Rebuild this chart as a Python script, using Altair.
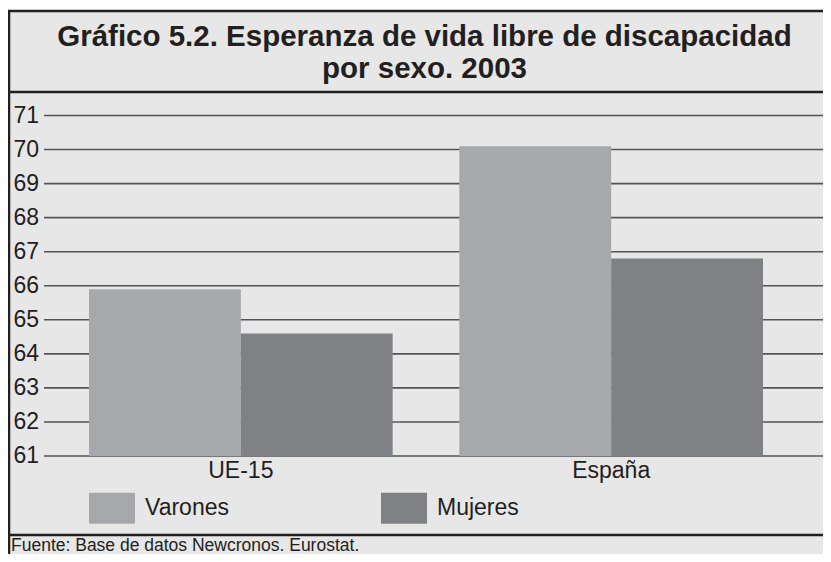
import altair as alt
import pandas as pd

# ---- data ----
grupos = ["UE-15", "España"]
sexos = ["Varones", "Mujeres"]
varones = [65.9, 70.1]
mujeres = [64.6, 66.8]
ticks = [61, 62, 63, 64, 65, 66, 67, 68, 69, 70, 71]
colores = ["#a7a8ab", "#808184"]

titulo = ["Gráfico 5.2. Esperanza de vida libre de discapacidad", "por sexo. 2003"]
fuente = "Fuente: Base de datos Newcronos. Eurostat."

rows = []
for g, v, m in zip(grupos, varones, mujeres):
    rows.append({"grupo": g, "sexo": "Varones", "valor": v})
    rows.append({"grupo": g, "sexo": "Mujeres", "valor": m})
df = pd.DataFrame(rows)
df_ticks = pd.DataFrame({"v": ticks})
one = pd.DataFrame({"k": [0]})

W, H = 815, 546
FONT = "Liberation Sans"
DARK = "#231f20"
BG = "#e6e7e6"

yscale = alt.Scale(domain=[61, 71], range=[448, 107.5], zero=False, nice=False)
xscale = alt.Scale(domain=grupos, range=[81, 755], paddingInner=0.18, paddingOuter=0)

background = alt.Chart(one).mark_rect(color=BG).encode(
    x=alt.value(0), x2=alt.value(W), y=alt.value(3), y2=alt.value(H)
)

grid = alt.Chart(df_ticks).mark_rule(color="#555555", strokeWidth=1.6).encode(
    y=alt.Y("v:Q", scale=yscale, axis=None),
    x=alt.value(36), x2=alt.value(W),
)

tick_labels = alt.Chart(df_ticks).mark_text(
    align="right", baseline="middle", font=FONT, fontSize=23, color=DARK
).encode(
    y=alt.Y("v:Q", scale=yscale, axis=None),
    x=alt.value(31),
    text="v:Q",
)

bars = alt.Chart(df).mark_bar(opacity=1).encode(
    x=alt.X("grupo:N", scale=xscale, axis=None, sort=grupos),
    xOffset=alt.XOffset("sexo:N", sort=sexos, scale=alt.Scale(paddingInner=0, paddingOuter=0)),
    y=alt.Y("valor:Q", scale=yscale, axis=None),
    y2=alt.datum(61),
    color=alt.Color(
        "sexo:N",
        scale=alt.Scale(domain=sexos, range=colores),
        legend=alt.Legend(
            orient="none",
            legendX=81,
            legendY=477,
            direction="horizontal",
            title=None,
            symbolType="M-1,-0.674H1V0.674H-1Z",
            symbolSize=2116,
            symbolStrokeWidth=0,
            symbolOpacity=1,
            labelFont=FONT,
            labelFontSize=23,
            labelColor=DARK,
            labelOffset=10,
            labelLimit=300,
            columnPadding=152,
            padding=0,
        ),
    ),
)

x_labels = alt.Chart(pd.DataFrame({"grupo": grupos})).mark_text(
    baseline="alphabetic", align="center", font=FONT, fontSize=23, color=DARK
).encode(
    x=alt.X("grupo:N", scale=xscale, axis=None, sort=grupos),
    y=alt.value(470),
    text="grupo:N",
)

title = alt.Chart(one).mark_text(
    align="center", baseline="alphabetic", font=FONT, fontSize=29.5, fontWeight="bold",
    color=DARK, lineHeight=32,
).encode(x=alt.value(416.5), y=alt.value(38), text=alt.value(titulo))

footer = alt.Chart(one).mark_text(
    align="left", baseline="alphabetic", font=FONT, fontSize=17.5, color=DARK
).encode(x=alt.value(3), y=alt.value(543), text=alt.value(fuente))

frame_top = alt.Chart(one).mark_rule(color=DARK, strokeWidth=2.5).encode(
    x=alt.value(0), x2=alt.value(W), y=alt.value(3)
)
frame_left = alt.Chart(one).mark_rule(color=DARK, strokeWidth=2.5).encode(
    x=alt.value(1), y=alt.value(3), y2=alt.value(H)
)
sep_title = alt.Chart(one).mark_rule(color=DARK, strokeWidth=2.5).encode(
    x=alt.value(0), x2=alt.value(W), y=alt.value(84)
)
sep_footer = alt.Chart(one).mark_rule(color=DARK, strokeWidth=2.5).encode(
    x=alt.value(0), x2=alt.value(W), y=alt.value(527)
)

chart = alt.layer(
    background, grid, bars, tick_labels, x_labels, title, footer,
    frame_top, frame_left, sep_title, sep_footer,
).properties(
    width=W, height=H, padding=0, autosize=alt.AutoSizeParams(type="none"),
    background="white",
).configure_view(strokeWidth=0)

chart.save("out.html", embed_options={"renderer": "svg", "actions": False})
